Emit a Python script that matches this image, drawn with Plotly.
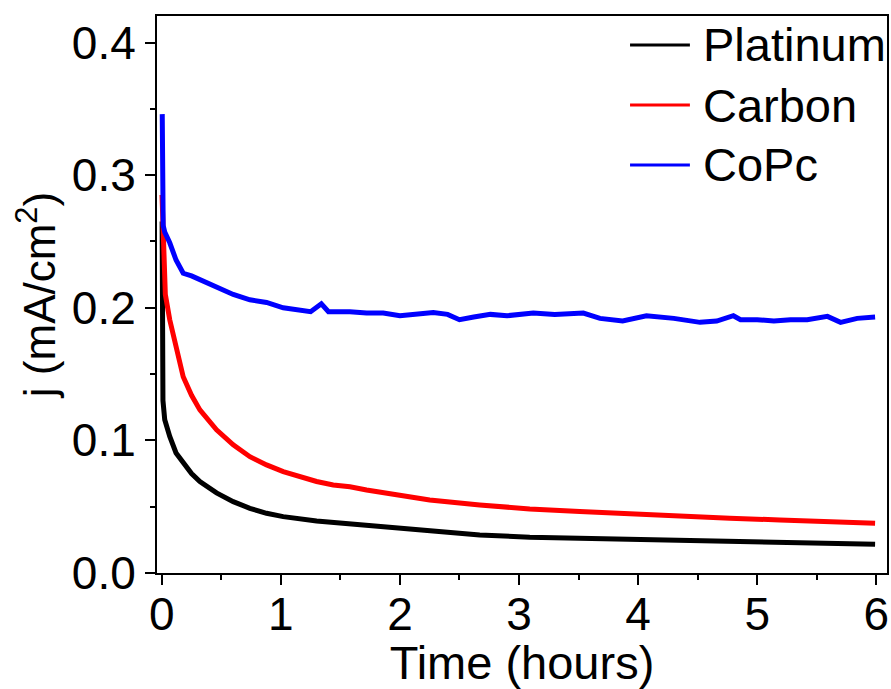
import plotly.graph_objects as go

# Platinum (black)
pt_t = [0.003, 0.006, 0.01, 0.025, 0.067, 0.12, 0.18, 0.25, 0.32, 0.46, 0.6, 0.74, 0.88, 1.02,
        1.3, 1.58, 1.86, 2.25, 2.67, 3.09, 3.51, 3.93, 4.35, 4.77, 5.19, 5.61, 5.99]
pt_j = [0.265, 0.16, 0.13, 0.1155, 0.103, 0.0905, 0.083, 0.075, 0.069, 0.0604, 0.0538, 0.0488,
        0.045, 0.0425, 0.0392, 0.037, 0.0345, 0.0312, 0.0287, 0.027, 0.0262, 0.0249, 0.0244,
        0.0236, 0.0224, 0.0219, 0.0216]

# Carbon (red)
c_t = [0.002, 0.01, 0.03, 0.067, 0.1, 0.135, 0.18, 0.25, 0.32, 0.46, 0.6, 0.74, 0.88, 1.02, 1.16,
       1.3, 1.44, 1.58, 1.72, 1.86, 2.0, 2.25, 2.67, 3.09, 3.51, 3.93, 4.35, 4.77, 5.19, 5.61, 5.99]
c_j = [0.285, 0.251, 0.21, 0.191, 0.178, 0.163, 0.148, 0.134, 0.123, 0.108, 0.0966, 0.0877, 0.0815,
       0.0765, 0.0727, 0.069, 0.0664, 0.065, 0.0626, 0.0606, 0.0585, 0.055, 0.0513, 0.0483, 0.0463,
       0.0445, 0.0425, 0.0413, 0.04, 0.0387, 0.0375]

# CoPc (blue)
co_t = [0.004, 0.008, 0.012, 0.025, 0.067, 0.12, 0.18, 0.25, 0.32, 0.46, 0.6, 0.74, 0.88, 1.02, 1.16,
        1.25, 1.34, 1.4, 1.44, 1.58, 1.72, 1.86, 2.0, 2.14, 2.28, 2.4, 2.5, 2.62, 2.76, 2.9, 3.12,
        3.3, 3.54, 3.68, 3.87, 4.07, 4.16, 4.3, 4.52, 4.66, 4.8, 4.86, 5.0, 5.14, 5.28, 5.42, 5.59,
        5.7, 5.84, 5.99]
co_j = [0.346, 0.27, 0.262, 0.257, 0.249, 0.236, 0.226, 0.224, 0.221, 0.215, 0.21, 0.206, 0.204,
        0.2, 0.198, 0.197, 0.203, 0.197, 0.197, 0.197, 0.196, 0.196, 0.194, 0.195, 0.1965, 0.195,
        0.191, 0.193, 0.195, 0.194, 0.196, 0.195, 0.196, 0.192, 0.19, 0.194, 0.1935, 0.192, 0.189,
        0.19, 0.194, 0.191, 0.191, 0.19, 0.191, 0.191, 0.1935, 0.189, 0.192, 0.193]

series_names = ["Platinum", "Carbon", "CoPc"]
series_colors = ["#000000", "#ff0000", "#0000ff"]
series_t = [pt_t, c_t, co_t]
series_j = [pt_j, c_j, co_j]

FONT = "Liberation Sans, Arial, sans-serif"

fig = go.Figure()
for name, col, t, j in zip(series_names, series_colors, series_t, series_j):
    fig.add_trace(go.Scatter(x=t, y=j, mode="lines", name=name,
                             line=dict(color=col, width=5), showlegend=False))

# legend drawn as line shapes + text (paper coordinates of the plot area)
leg_x0, leg_x1, leg_tx = 0.648, 0.730, 0.745
leg_rows = [0.948, 0.840, 0.7325]
for name, col, yy in zip(series_names, series_colors, leg_rows):
    fig.add_shape(type="line", xref="paper", yref="paper", x0=leg_x0, x1=leg_x1, y0=yy, y1=yy,
                  line=dict(color=col, width=3))
    fig.add_annotation(xref="paper", yref="paper", x=leg_tx, y=yy, text=name, showarrow=False,
                       xanchor="left", yanchor="middle",
                       font=dict(family=FONT, size=47, color="black"))

axis_common = dict(showline=True, linecolor="black", linewidth=2, mirror=True,
                   ticks="outside", ticklen=10, tickwidth=2, tickcolor="black",
                   showgrid=False, zeroline=False, automargin=False,
                   tickfont=dict(family=FONT, size=46, color="black"))

fig.update_xaxes(range=[-0.04, 6.09], dtick=1, tick0=0, ticklabelstandoff=-10,
                 minor=dict(dtick=0.5, ticks="outside", ticklen=5, tickwidth=2, tickcolor="black"),
                 title=dict(text="Time (hours)", font=dict(family=FONT, size=47, color="black")),
                 **axis_common)
fig.update_yaxes(range=[0, 0.42], dtick=0.1, tick0=0, tickformat=".1f",
                 minor=dict(dtick=0.05, ticks="outside", ticklen=5, tickwidth=2, tickcolor="black"),
                 title=dict(text="j (mA/cm<sup>2</sup>)", font=dict(family=FONT, size=44, color="black"),
                            standoff=2),
                 **axis_common)

fig.update_layout(
    width=891, height=689,
    margin=dict(l=157, r=4, t=16, b=116),
    paper_bgcolor="white", plot_bgcolor="white",
    showlegend=False,
)

fig.write_html("out.html", config={"displayModeBar": False},
               post_script="document.body.style.margin='0';document.body.style.overflow='hidden';")
